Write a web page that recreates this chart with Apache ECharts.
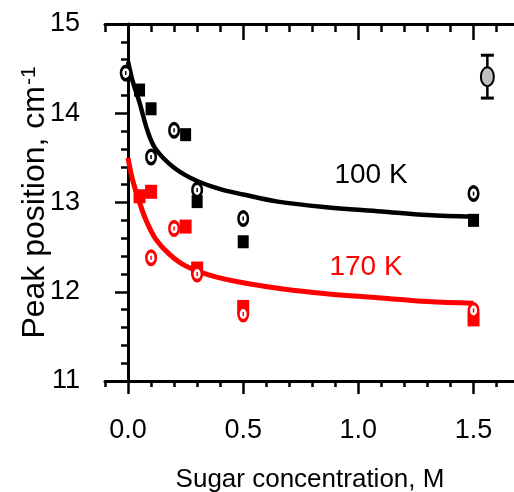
<!DOCTYPE html>
<html>
<head>
<meta charset="utf-8">
<script src="https://cdn.jsdelivr.net/npm/echarts@6/dist/echarts.min.js"></script>
<style>html,body{margin:0;padding:0;background:#fff}#c{width:514px;height:492px}</style>
</head>
<body>
<div id="c"></div>
<script>
// ---- data ----
const xMajorTicks = [0, 0.5, 1.0, 1.5];
const sq100X = [0.05, 0.1, 0.25, 0.3, 0.5, 1.5];
const sq100Y = [14.26, 14.05, 13.76, 13.01, 12.56, 12.80];
const ci100X = [-0.01, 0.1, 0.2, 0.3, 0.5, 1.5];
const ci100Y = [14.45, 13.51, 13.81, 13.14, 12.82, 13.10];
const sq170X = [0.05, 0.1, 0.25, 0.3, 0.5, 1.5];
const sq170Y = [13.07, 13.12, 12.73, 12.26, 11.83, 11.69];
const ci170X = [0.1, 0.2, 0.3, 0.5, 1.5];
const ci170Y = [12.38, 12.71, 12.20, 11.75, 11.79];
const fit100X = [0, 0.02, 0.05, 0.085, 0.12, 0.2, 0.3, 0.4, 0.5, 0.65, 0.85, 1.1, 1.3, 1.5];
const fit100Y = [14.58, 14.36, 14.12, 13.80, 13.60, 13.39, 13.24, 13.15, 13.09, 13.01, 12.95, 12.90, 12.86, 12.84];
const fit170X = [0, 0.02, 0.05, 0.08, 0.12, 0.18, 0.25, 0.35, 0.5, 0.65, 0.85, 1.1, 1.3, 1.5];
const fit170Y = [13.50, 13.25, 13.00, 12.79, 12.59, 12.42, 12.29, 12.19, 12.10, 12.04, 11.98, 11.93, 11.89, 11.87];
const grayX = [1.56];
const grayY = [14.41];
const grayErr = [0.24];
const label100 = [1.055, 13.31];
const label170 = [1.033, 12.27];

const pairs = (xs, ys) => xs.map((x, i) => [x, ys[i]]);
const FONT = 'Liberation Sans, Arial, sans-serif';
const XMIN = -0.1, XMAX = 1.68;

const chart = echarts.init(document.getElementById('c'), null, {renderer: 'canvas'});
const axLine = {show: true, lineStyle: {color: '#000', width: 3}};
const tickStyle = {color: '#000', width: 2.5};

const option = {
  backgroundColor: '#fff',
  animation: false,
  grid: {left: 105, top: 24, width: 410, height: 357, containLabel: false, outerBoundsMode: 'none'},
  xAxis: [
    {type: 'value', position: 'bottom', min: XMIN, max: XMAX, interval: 0.1,
     axisLine: axLine, axisTick: {show: true, inside: false, length: 6, lineStyle: tickStyle},
     axisLabel: {show: false}, splitLine: {show: false}},
    {type: 'value', position: 'bottom', min: XMIN, max: XMAX,
     axisLine: {show: false},
     axisTick: {show: true, inside: false, length: 13, lineStyle: tickStyle, customValues: xMajorTicks},
     axisLabel: {show: true, customValues: xMajorTicks, formatter: v => v.toFixed(1),
                 fontSize: 27, fontFamily: FONT, color: '#000', margin: 36},
     splitLine: {show: false},
     name: 'Sugar concentration, M', nameLocation: 'middle', nameGap: 86, nameMoveOverlap: false,
     nameTextStyle: {fontSize: 26, fontFamily: FONT, color: '#000'}},
    {type: 'value', position: 'top', min: XMIN, max: XMAX, interval: 0.1,
     axisLine: axLine, axisTick: {show: true, inside: true, length: 8, lineStyle: tickStyle},
     axisLabel: {show: false}, splitLine: {show: false}},
    {type: 'value', position: 'top', min: XMIN, max: XMAX,
     axisLine: {show: false},
     axisTick: {show: true, inside: true, length: 16, lineStyle: tickStyle, customValues: xMajorTicks},
     axisLabel: {show: false}, splitLine: {show: false}}
  ],
  yAxis: [
    {type: 'value', position: 'left', min: 11, max: 15, interval: 1,
     axisLine: axLine,
     axisTick: {show: true, inside: false, length: 13, lineStyle: tickStyle},
     minorTick: {show: true, splitNumber: 5, length: 7, lineStyle: tickStyle},
     axisLabel: {fontSize: 27, fontFamily: FONT, color: '#000', margin: 25},
     splitLine: {show: false}, minorSplitLine: {show: false},
     name: '{a|Peak position, cm}{s|-1}', nameLocation: 'middle', nameGap: 54, nameMoveOverlap: false,
     nameTextStyle: {fontFamily: FONT, color: '#000',
       rich: {a: {fontSize: 32, fontFamily: FONT, color: '#000', lineHeight: 32, verticalAlign: 'bottom'},
              s: {fontSize: 21, fontFamily: FONT, color: '#000', lineHeight: 32, verticalAlign: 'top', padding: [0, 0, 0, 1]}}}},
    {type: 'value', position: 'right', min: 11, max: 15, interval: 1,
     axisLine: {show: false},
     axisTick: {show: true, inside: true, length: 6, lineStyle: tickStyle},
     axisLabel: {show: false}, splitLine: {show: false}}
  ],
  series: [
    {type: 'line', name: 'fit100', data: pairs(fit100X, fit100Y), smooth: 0.35, showSymbol: false,
     lineStyle: {color: '#000', width: 4.5}, z: 2, silent: true},
    {type: 'line', name: 'fit170', data: pairs(fit170X, fit170Y), smooth: 0.35, showSymbol: false,
     lineStyle: {color: '#ff0000', width: 5}, z: 2, silent: true},
    {type: 'scatter', name: 'sq100', data: pairs(sq100X, sq100Y), symbol: 'rect', symbolSize: [11, 13],
     itemStyle: {color: '#000', opacity: 1}, z: 3},
    {type: 'scatter', name: 'sq170', data: pairs(sq170X, sq170Y), symbol: 'rect', symbolSize: [12, 14],
     itemStyle: {color: '#ff0000', opacity: 1}, z: 3},
    {type: 'scatter', name: 'ci100', data: pairs(ci100X, ci100Y), symbol: 'circle', symbolSize: [9.5, 13.5],
     itemStyle: {color: '#fff', borderColor: '#000', borderWidth: 3, opacity: 1}, z: 4},
    {type: 'scatter', name: 'ci170', data: pairs(ci170X, ci170Y), symbol: 'circle', symbolSize: [9.5, 13.5],
     itemStyle: {color: '#fff', borderColor: '#ff0000', borderWidth: 3, opacity: 1}, z: 4},
    {type: 'scatter', name: 'ci100c', data: pairs(ci100X, ci100Y), symbol: 'rect', symbolSize: [1.5, 4],
     itemStyle: {color: '#000', opacity: 1}, z: 5, silent: true},
    {type: 'scatter', name: 'ci170c', data: pairs(ci170X, ci170Y), symbol: 'rect', symbolSize: [1.5, 4],
     itemStyle: {color: '#ff0000', opacity: 1}, z: 5, silent: true},
    {type: 'custom', name: 'gray', data: grayX.map((x, i) => [x, grayY[i], grayErr[i]]), z: 5,
     renderItem: (params, api) => {
       const x = api.value(0), y = api.value(1), e = api.value(2);
       const c = api.coord([x, y]);
       const t = api.coord([x, y + e]);
       const b = api.coord([x, y - e]);
       const cap = 6.5;
       return {type: 'group', children: [
         {type: 'line', shape: {x1: c[0], y1: t[1], x2: c[0], y2: b[1]}, style: {stroke: '#000', lineWidth: 2.5}},
         {type: 'line', shape: {x1: c[0] - cap, y1: t[1], x2: c[0] + cap, y2: t[1]}, style: {stroke: '#000', lineWidth: 3}},
         {type: 'line', shape: {x1: c[0] - cap, y1: b[1], x2: c[0] + cap, y2: b[1]}, style: {stroke: '#000', lineWidth: 3}},
         {type: 'ellipse', shape: {cx: c[0], cy: c[1], rx: 6.5, ry: 9.5}, style: {fill: '#c0c0c0', stroke: '#000', lineWidth: 2}}
       ]};
     }},
    {type: 'scatter', name: 'lab100', data: [label100], symbolSize: 0, silent: true, z: 6,
     itemStyle: {opacity: 1},
     label: {show: true, position: 'inside', formatter: '100 K', fontSize: 28, fontFamily: FONT, color: '#000', opacity: 1}},
    {type: 'scatter', name: 'lab170', data: [label170], symbolSize: 0, silent: true, z: 6,
     itemStyle: {opacity: 1},
     label: {show: true, position: 'inside', formatter: '170 K', fontSize: 28, fontFamily: FONT, color: '#ff0000', opacity: 1}}
  ]
};
chart.setOption(option);
</script>
</body>
</html>
